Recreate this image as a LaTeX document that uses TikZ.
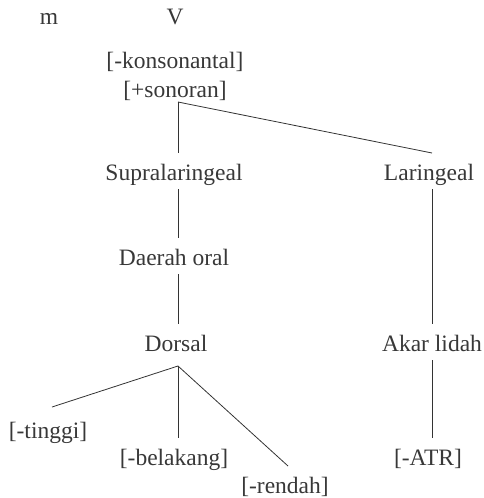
\documentclass[tikz,border=0pt]{standalone}
\usepackage{fontspec}
\setmainfont{Liberation Serif}
\begin{document}
\begin{tikzpicture}[x=1pt,y=1pt,
  lbl/.style={anchor=base,inner sep=0pt,outer ysep=4pt,
    text height=23pt,text depth=5pt,text=black!78,
    font=\fontsize{23.5}{26}\selectfont},
  branch/.style={draw=black!80,line width=0.8pt}]
  \useasboundingbox (0,0) rectangle (484,-498);
  % heading row
  \node[lbl] (m) at (49,-24) {m};
  \node[lbl] (v) at (175,-24) {V};
  % root features
  \node[lbl] (kons) at (175,-68) {[-konsonantal]};
  \node[lbl] (son) at (175,-97) {[+sonoran]};
  \coordinate (root) at (178,-102);
  % left column
  \node[lbl] (sup) at (174,-180) {Supralaringeal};
  \node[lbl] (oral) at (174,-265) {Daerah oral};
  \node[lbl] (dors) at (176,-351) {Dorsal};
  \coordinate (dpt) at (178,-366);
  \node[lbl] (ting) at (48,-438) {[-tinggi]};
  \node[lbl] (bel) at (174,-465) {[-belakang]};
  \node[lbl] (rend) at (285,-493) {[-rendah]};
  % right column
  \node[lbl] (lar) at (429,-180) {Laringeal};
  \node[lbl] (akar) at (432,-351) {Akar lidah};
  \node[lbl] (atr) at (428,-465) {[-ATR]};
  % connectors
  \draw[branch] (root) -- (sup.north -| root);
  \draw[branch] (root) -- (lar.north -| akar);
  \draw[branch] (sup.south -| root) -- (oral.north -| root);
  \draw[branch] (oral.south -| root) -- (dors.north -| root);
  \draw[branch] (dpt) -- ([xshift=4pt,yshift=4pt]ting.north);
  \draw[branch] (dpt) -- (bel.north -| root);
  \draw[branch] (dpt) -- ([xshift=3pt]rend.north);
  \draw[branch] (lar.south -| akar) -- (akar.north);
  \draw[branch] (akar.south) -- (atr.north -| akar);
\end{tikzpicture}
\end{document}
